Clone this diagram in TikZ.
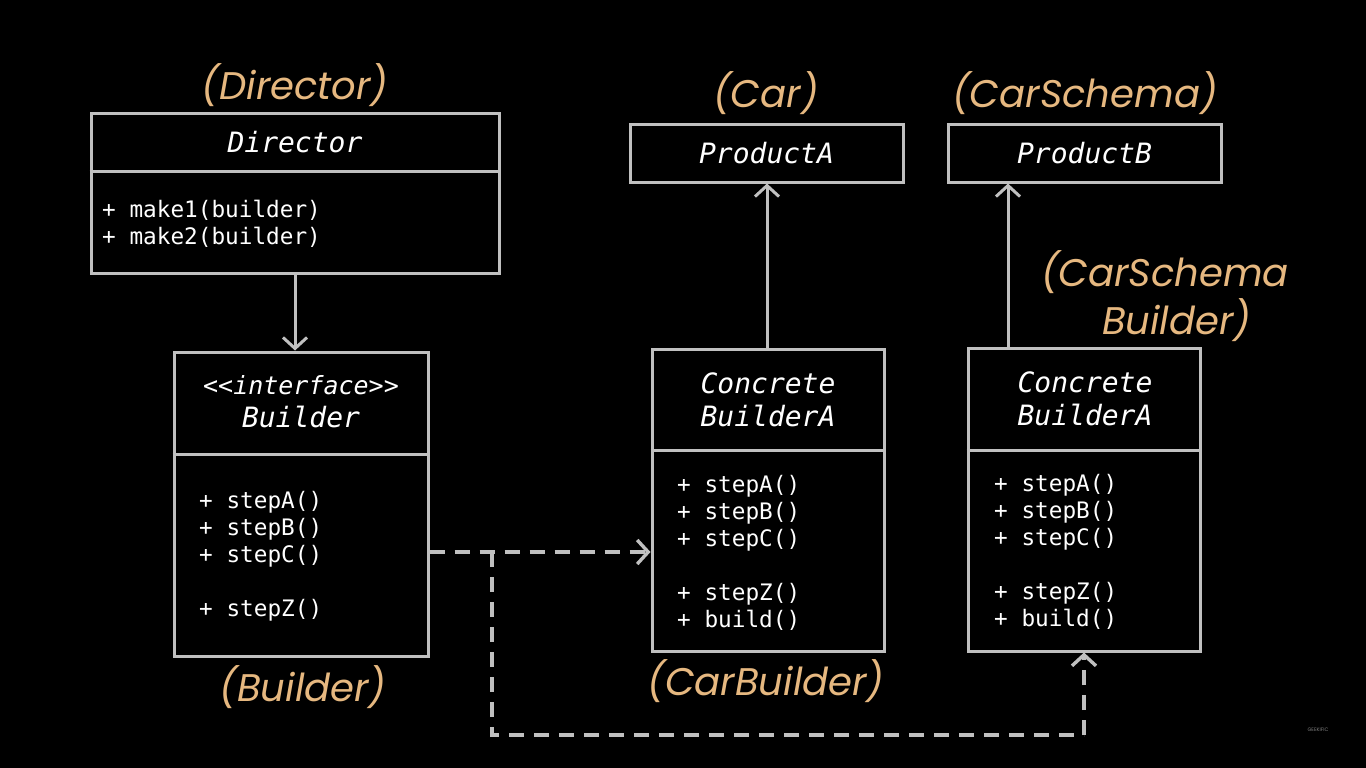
\documentclass[tikz,border=0pt]{standalone}
\usepackage{fontspec}
\setmonofont{DejaVu Sans Mono}
\newfontfamily\labfont{Poppins}
\usetikzlibrary{arrows.meta}
\definecolor{lc}{RGB}{192,192,192}
\definecolor{orangec}{RGB}{230,184,128}
\begin{document}
\begin{tikzpicture}[x=1pt,y=-1pt,
  box/.style={draw=lc, line width=3pt, fill=black, inner sep=0pt},
  sep/.style={draw=lc, line width=3pt},
  ttl/.style={text=white, font=\fontsize{28}{33}\selectfont\ttfamily\itshape, align=center, inner sep=0pt},
  bdy/.style={text=white, font=\fontsize{22.7}{27}\selectfont\ttfamily, align=left, anchor=north west, inner sep=0pt},
  lab/.style={text=orangec, font=\fontsize{38.5}{52}\selectfont\labfont\itshape, align=center, inner sep=0pt},
  arr/.style={draw=lc, line width=3pt, -{Straight Barb[length=11pt,width=24pt,line width=3pt]}},
  dsh/.style={draw=lc, line width=3.6pt, dash pattern=on 15pt off 10pt, -{Straight Barb[length=11pt,width=24pt,line width=3.4pt]}},
]
\fill[black] (0,0) rectangle (1366,768);
\useasboundingbox (0,0) rectangle (1366,768);

% Director
\node[box, minimum width=408pt, minimum height=160pt] (dir) at (295,193) {};
\draw[sep] (dir.west |- 0,171) -- (dir.east |- 0,171);
\node[ttl] (dirT) at (295,142) {Director};
\node[bdy] (dirB) at (102,200) {+ make1(builder)\\+ make2(builder)};
\node[lab] (dirL) at (295,85) {(Director)};

% Builder
\node[box, minimum width=254pt, minimum height=304pt] (bld) at (301,504) {};
\draw[sep] (bld.west |- 0,454) -- (bld.east |- 0,454);
\node[ttl] (bldT) at (301,402) {{\fontsize{25}{31}\selectfont <{}<interface>{}>}\\Builder};
\node[bdy] (bldB) at (199,491) {+ stepA()\\+ stepB()\\+ stepC()\\[27pt]+ stepZ()};
\node[lab] (bldL) at (303,687) {(Builder)};

% Products
\node[box, minimum width=273pt, minimum height=58pt] (pA) at (766.5,153) {};
\node[ttl] (pAT) at (766.5,153) {ProductA};
\node[lab] (pAL) at (766,93) {(Car)};
\node[box, minimum width=273pt, minimum height=58pt] (pB) at (1084.5,153) {};
\node[ttl] (pBT) at (1084.5,153) {ProductB};
\node[lab] (pBL) at (1085,93) {(CarSchema)};

% Concrete builder A
\node[box, minimum width=232pt, minimum height=302pt] (cA) at (768,500) {};
\draw[sep] (cA.west |- 0,450) -- (cA.east |- 0,450);
\node[ttl] (cAT) at (768,400) {Concrete\\BuilderA};
\node[bdy] (cAB) at (677,475) {+ stepA()\\+ stepB()\\+ stepC()\\[27pt]+ stepZ()\\+ build()};
\node[lab] (cAL) at (766,681) {(CarBuilder)};

% Concrete builder B
\node[box, minimum width=232pt, minimum height=303pt] (cB) at (1084,499.5) {};
\draw[sep] (cB.west |- 0,450) -- (cB.east |- 0,450);
\node[ttl] (cBT) at (1085,399) {Concrete\\BuilderA};
\node[bdy] (cBB) at (994,474) {+ stepA()\\+ stepB()\\+ stepC()\\[27pt]+ stepZ()\\+ build()};
\node[lab] (cBL) at (1165,296) {(CarSchema\\[-4pt]\ \ Builder)};

% Connectors
\draw[arr] (dir.south) -- (dir.south |- bld.north);
\draw[arr] (cA.north -| 767,0) -- (pA.south -| 767,0);
\draw[arr] (cB.north -| 1008,0) -- (pB.south -| 1008,0);
\coordinate (j) at (492,552);
\coordinate (c1) at (492,735);
\draw[dsh] (bld.east |- j) -- (cA.west |- j);
\draw[dsh, -] (j) -- (c1) -- (c1 -| cB.south);
\draw[dsh] (c1 -| cB.south) -- (cB.south);

% watermark
\node[text=gray, font=\fontsize{5}{6}\selectfont\labfont] (wm) at (1318,730) {GEEKIFIC};
\end{tikzpicture}
\end{document}
